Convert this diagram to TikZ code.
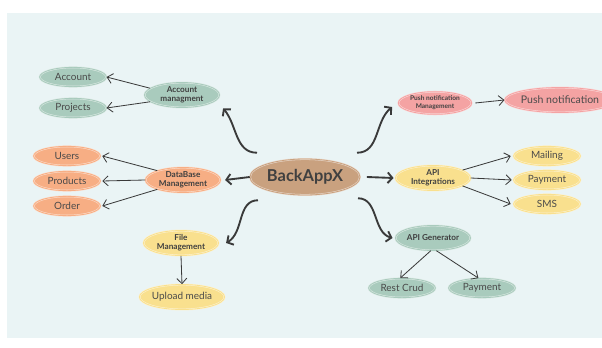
\documentclass[tikz,border=0pt]{standalone}
\usepackage{fontspec}
\setmainfont{Lato}
\usepackage{tikz}
\usetikzlibrary{shapes.geometric,arrows.meta}

\definecolor{bgblue}{HTML}{EAF4F5}
\definecolor{sage}{HTML}{A9CBBD}
\definecolor{peach}{HTML}{F7AE84}
\definecolor{butter}{HTML}{F9E08E}
\definecolor{rose}{HTML}{F4A3A3}
\definecolor{tan}{HTML}{C9A17F}
\definecolor{txtgray}{HTML}{4A4A4A}
\definecolor{linegray}{HTML}{3A3A3A}

\begin{document}
\begin{tikzpicture}[
  bubble/.style={ellipse, fill=#1, draw=#1!40!white, line width=0.45pt, double=#1, double distance=0.7pt, text=txtgray, inner sep=0pt},
  leaf/.style={bubble=#1, minimum width=2cm, minimum height=0.58cm, font=\fontsize{8.5}{9}\selectfont},
  hub/.style={bubble=#1, minimum width=2.25cm, minimum height=0.75cm, align=center, text=black!75, font=\bfseries\fontsize{7}{8}\selectfont},
  arrow/.style={-{Straight Barb[length=1.6mm,width=3mm]}, line width=0.7pt, draw=linegray},
  bigarrow/.style={-{Straight Barb[length=1.4mm,width=3.2mm]}, line width=1.6pt, draw=linegray}
]
\useasboundingbox (0,0) rectangle (18.06,10.41);
\fill[white] (0,0) rectangle (18.06,10.41);
\fill[bgblue] (0.21,0.27) rectangle (18.06,10.02);

% Center
\node[bubble=tan, minimum width=3.3cm, minimum height=1.08cm, inner xsep=-0.6cm, text=black!75, font=\bfseries\fontsize{14}{16}\selectfont] (main) at (9.15,5.10) {BackAppX};

% Account branch
\node[hub=sage] (accmgmt) at (5.46,7.56) {Account\\managment};
\node[leaf=sage] (account) at (2.19,8.10) {Account};
\node[leaf=sage] (projects) at (2.19,7.17) {Projects};

% DataBase branch
\node[hub=peach] (dbmgmt) at (5.49,5.01) {DataBase\\Management};
\node[leaf=peach] (users) at (2.01,5.73) {Users};
\node[leaf=peach] (products) at (2.01,4.98) {Products};
\node[leaf=peach] (order) at (2.01,4.23) {Order};

% File branch
\node[hub=butter] (filemgmt) at (5.43,3.12) {File\\Management};
\node[leaf=butter, minimum width=2.5cm, minimum height=0.75cm] (upload) at (5.46,1.50) {Upload media};

% Push notification branch
\node[hub=rose, minimum width=2.2cm, minimum height=0.68cm, font=\bfseries\fontsize{5.6}{6.6}\selectfont] (pushmgmt) at (13.05,7.32) {Push notification\\Management};
\node[leaf=rose, minimum width=2.5cm, minimum height=0.75cm, font=\fontsize{9}{10}\selectfont] (pushnotif) at (16.80,7.41) {Push notification};

% API integrations branch
\node[hub=butter] (apiint) at (12.99,5.07) {API\\Integrations};
\node[leaf=butter] (mailing) at (16.41,5.73) {Mailing};
\node[leaf=butter] (payment) at (16.41,5.01) {Payment};
\node[leaf=butter] (sms) at (16.41,4.29) {SMS};

% API generator branch
\node[hub=sage] (apigen) at (12.99,3.27) {API Generator};
\node[leaf=sage] (restcrud) at (12.06,1.77) {Rest Crud};
\node[leaf=sage] (payment2) at (14.46,1.77) {Payment};

% Main arrows
\draw[bigarrow] ([shift={(-1.44,0.18)}]main.north) to[out=180,in=-50] ([shift={(0.1,-0.4)}]accmgmt.east);
\draw[bigarrow] ([shift={(1.56,0.18)}]main.north) to[out=0,in=-140] ([shift={(-0.18,-0.12)}]pushmgmt.west);
\draw[bigarrow] (main.west) -- ([xshift=0.13cm]dbmgmt.east);
\draw[bigarrow] ([xshift=0.2cm]main.east) -- ([xshift=-0.05cm]apiint.west);
\draw[bigarrow] ([shift={(-1.41,-0.15)}]main.south) to[out=180,in=30] ([xshift=0.22cm]filemgmt.east);
\draw[bigarrow] ([shift={(1.59,-0.09)}]main.south) to[out=0,in=165] ([xshift=-0.08cm]apigen.west);

% Sub arrows
\draw[arrow] (accmgmt.168) -- (account.east);
\draw[arrow] (accmgmt.192) -- (projects.east);
\draw[arrow] (dbmgmt.160) -- ([xshift=0.05cm]users.east);
\draw[arrow] (dbmgmt.west) -- ([xshift=0.05cm]products.east);
\draw[arrow] (dbmgmt.200) -- ([xshift=0.05cm]order.east);
\draw[arrow] (filemgmt.south) -- (upload.north);
\draw[arrow] ([xshift=0.1cm]pushmgmt.east) -- (pushnotif.west);
\draw[arrow] (apiint.15) -- ([xshift=-0.08cm]mailing.west);
\draw[arrow] (apiint.east) -- ([xshift=-0.05cm]payment.west);
\draw[arrow] (apiint.-15) -- ([xshift=-0.08cm]sms.west);
\draw[arrow] (apigen.-100) -- (restcrud.100);
\draw[arrow] (apigen.-75) -- (payment2.110);

\end{tikzpicture}
\end{document}
